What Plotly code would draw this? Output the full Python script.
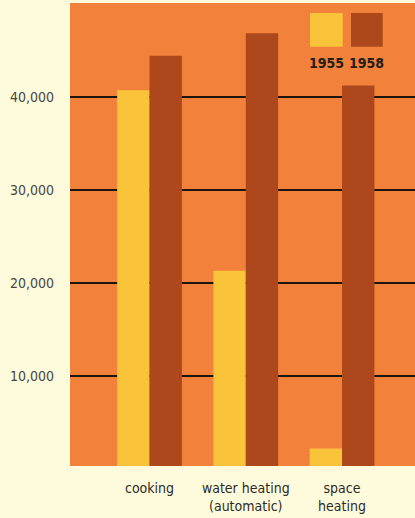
import plotly.graph_objects as go

# Uses of gas appliances, number of units
categories = ["cooking", "water heating<br>(automatic)", "space<br>heating"]
years = ["1955", "1958"]
units_1955 = [40700, 21300, 2200]
units_1958 = [44400, 46800, 41200]
y_ticks = [10000, 20000, 30000, 40000]
y_tick_labels = ["10,000", "20,000", "30,000", "40,000"]

CREAM = "#fdfbdb"
ORANGE = "#f2823b"
YELLOW = "#f9c43a"
BROWN = "#ac481b"
INK = "#2e2a26"
FONT = "DejaVu Sans Condensed, Liberation Sans Narrow, Arial Narrow, sans-serif"

x_pos = list(range(len(categories)))

fig = go.Figure()
fig.add_trace(go.Bar(x=x_pos, y=units_1955, name=years[0],
                     marker=dict(color=YELLOW, line=dict(width=0))))
fig.add_trace(go.Bar(x=x_pos, y=units_1958, name=years[1],
                     marker=dict(color=BROWN, line=dict(width=0))))

# Legend swatches and year labels in the upper right corner
swatches = [(0.6957, 0.7904, YELLOW), (0.8145, 0.9064, BROWN)]
for (x0, x1, col), yr in zip(swatches, years):
    fig.add_shape(type="rect", xref="paper", yref="paper",
                  x0=x0, x1=x1, y0=0.9056, y1=0.9786,
                  fillcolor=col, line=dict(width=0))
    fig.add_annotation(xref="paper", yref="paper", x=(x0 + x1) / 2, y=0.871,
                       text=f"<b>{yr}</b>", showarrow=False,
                       xanchor="center", yanchor="middle",
                       font=dict(family=FONT, size=14, color="#241c16"))

fig.update_layout(
    width=415, height=518,
    margin=dict(l=70, r=0, t=3, b=52),
    paper_bgcolor=CREAM,
    plot_bgcolor=ORANGE,
    barmode="group",
    bargap=0.328,
    bargroupgap=0,
    showlegend=False,
    font=dict(family=FONT, size=14, color=INK),
)
fig.update_xaxes(
    range=[-0.826, 2.758],
    tickvals=x_pos, ticktext=categories,
    showgrid=False, zeroline=False, showline=False, ticks="",
    ticklabelstandoff=12,
    tickfont=dict(family=FONT, size=14, color=INK),
)
fig.update_yaxes(
    range=[330, 50060],
    tickvals=y_ticks, ticktext=y_tick_labels,
    showgrid=True, gridcolor="#1e140e", gridwidth=2,
    zeroline=False, showline=False, ticks="",
    ticklabelstandoff=15,
    tickfont=dict(family=FONT, size=14, color="#4a4440"),
)

fig.write_html("out.html")
